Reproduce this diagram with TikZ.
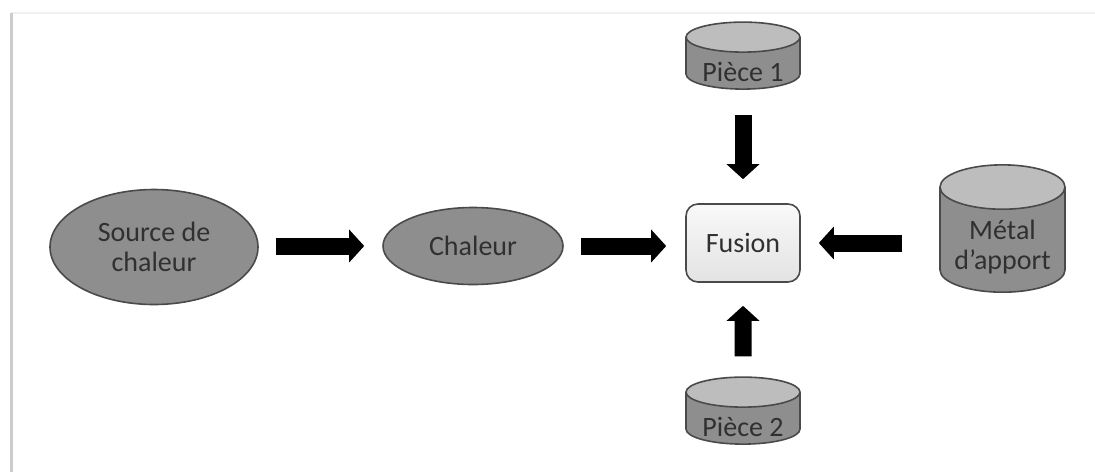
\documentclass[tikz,border=0pt]{standalone}
\usepackage{fontspec}
\setmainfont{Carlito}
\usepackage{tikz}
\usetikzlibrary{arrows.meta,shapes.geometric}

\definecolor{shapegray}{HTML}{8E8E8E}
\definecolor{topgray}{HTML}{BDBDBD}
\definecolor{edgegray}{HTML}{4A4A4A}
\definecolor{textgray}{HTML}{303030}

\begin{document}
\begin{tikzpicture}[x=0.5pt,y=-0.5pt,
    font=\fontsize{14}{15}\selectfont,
    blob/.style={ellipse,draw=edgegray,fill=shapegray,line width=0.8pt,
        inner sep=0pt,align=center,text=textgray},
    drum/.style={cylinder,shape border rotate=90,draw=edgegray,line width=0.8pt,
        cylinder uses custom fill,cylinder body fill=shapegray,
        cylinder end fill=topgray,inner sep=0pt,text=textgray},
    fusebox/.style={rectangle,rounded corners=6pt,draw=edgegray,line width=0.8pt,
        top color=gray!5,bottom color=gray!22,inner sep=0pt,text=textgray},
    bigarrow/.style={line width=8.5pt,-{Triangle[length=7.5pt,width=16pt]}}]
\useasboundingbox (0,0) rectangle (1095,472);
% frame
\draw[gray!12,line width=1pt] (11,13) -- (1095,13);
\draw[gray!40,line width=1.5pt] (11,472) -- (11,13);

% nodes
\node[blob,minimum width=104pt,minimum height=57.5pt] (src) at (154,247) {Source de\\chaleur};
\node[blob,minimum width=90pt,minimum height=38.5pt] (heat) at (473,246) {Chaleur};
\node[fusebox,minimum width=57pt,minimum height=39pt] (fuse) at (743,243) {Fusion};
\node[drum,aspect=0.37,minimum width=57pt,minimum height=33.5pt] (p1) at (743,63.5)
    {\raisebox{-4pt}[\height][\depth]{Pièce 1}};
\node[drum,aspect=0.37,minimum width=57pt,minimum height=33.5pt] (p2) at (743,418.5)
    {\raisebox{-4pt}[\height][\depth]{Pièce 2}};
\node[drum,aspect=0.46,minimum width=62.5pt,minimum height=60pt] (metal) at (1002.5,240)
    {\raisebox{-4pt}[\height][\depth]{\begin{tabular}{@{}c@{}}Métal\\d'apport\end{tabular}}};

% arrows
\draw[bigarrow,shorten <=8.5pt,shorten >=9pt] (src.east |- heat.west) -- (heat.west);
\draw[bigarrow,shorten <=8.5pt,shorten >=9.5pt] (heat.east) -- (heat.east -| fuse.west);
\draw[bigarrow,shorten <=18.5pt,shorten >=9pt] (metal.west |- fuse.east) -- (fuse.east);
\draw[bigarrow,shorten <=12.5pt,shorten >=12pt] (p1.south) -- (fuse.north);
\draw[bigarrow,shorten <=10pt,shorten >=11.5pt] (p2.north) -- (fuse.south);
\end{tikzpicture}
\end{document}
